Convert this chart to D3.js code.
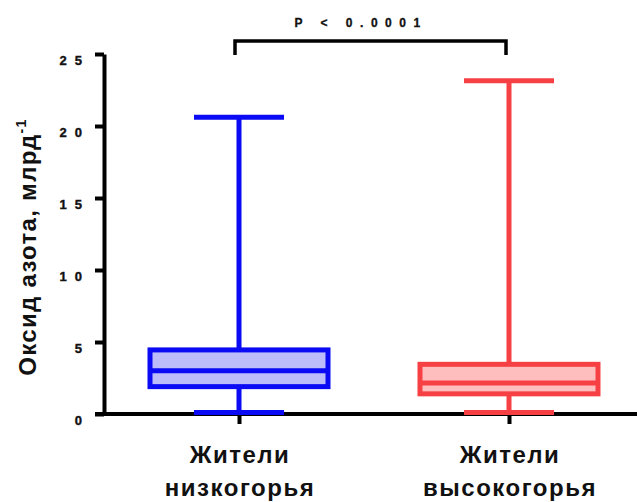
<!DOCTYPE html>
<html lang="ru">
<head>
    <meta charset="UTF-8">
    <title>Оксид азота</title>
    <script src="https://d3js.org/d3.v7.min.js"></script>
    <style>
        body { margin: 0; background: #fff; }
        text { font-family: "Liberation Sans", Arial, sans-serif; font-weight: bold; }
    </style>
</head>
<body>
    <div id="chart"></div>
    <script>
        // data
        const groups = ["Жители низкогорья", "Жители высокогорья"];
        const whiskerLow = [0.1, 0.1];
        const q1 = [1.9, 1.4];
        const median = [3.0, 2.15];
        const q3 = [4.45, 3.45];
        const whiskerHigh = [20.6, 23.15];
        const yTicks = [0, 5, 10, 15, 20, 25];
        const strokeColors = ["#0a0af5", "#f74044"];
        const fillColors = ["#bcbcfa", "#ffbebe"];
        const pText = "P < 0.0001";

        const W = 637, H = 502;
        const svg = d3.select("#chart").append("svg")
            .attr("width", W).attr("height", H);

        const x = d3.scalePoint().domain(groups).range([239, 509]);
        const y = d3.scaleLinear().domain([0, 25]).range([414, 54]);
        const boxHalf = 89, capHalf = 45;

        // y axis
        const yAxis = svg.append("g")
            .attr("transform", "translate(104,0)")
            .attr("stroke-width", 4)
            .call(d3.axisLeft(y).tickValues(yTicks).tickSize(9).tickSizeOuter(0));
        yAxis.select(".domain").style("stroke-width", "4px");
        yAxis.selectAll(".tick line").style("stroke-width", "4px");
        yAxis.selectAll(".tick text")
            .attr("x", -14).attr("y", 10.5).attr("dy", 0)
            .style("font-size", "13px").style("letter-spacing", "8px")
            .style("font-family", "Liberation Sans, Arial, sans-serif")
            .style("font-weight", "bold")
            .attr("fill", "#111").attr("stroke", "#111").attr("stroke-width", 0.4);

        // x axis
        const xAxis = svg.append("g")
            .attr("transform", "translate(0,414)")
            .call(d3.axisBottom(x).tickSize(10).tickSizeOuter(0).tickFormat(""));
        xAxis.select(".domain").attr("d", "M95,0H637").style("stroke-width", "4px");
        xAxis.selectAll(".tick line").style("stroke-width", "4px");

        groups.forEach((g, i) => {
            const cx = x(g);
            const c = strokeColors[i];
            const gg = svg.append("g");
            // whisker
            gg.append("line").attr("x1", cx).attr("x2", cx)
                .attr("y1", y(whiskerLow[i])).attr("y2", y(whiskerHigh[i]))
                .attr("stroke", c).attr("stroke-width", 5);
            [whiskerLow[i], whiskerHigh[i]].forEach(v => {
                gg.append("line").attr("x1", cx - capHalf).attr("x2", cx + capHalf)
                    .attr("y1", y(v)).attr("y2", y(v))
                    .attr("stroke", c).attr("stroke-width", 5);
            });
            // box
            gg.append("rect").attr("x", cx - boxHalf).attr("y", y(q3[i]))
                .attr("width", boxHalf * 2).attr("height", y(q1[i]) - y(q3[i]))
                .attr("fill", fillColors[i]).attr("stroke", c).attr("stroke-width", 5);
            gg.append("line").attr("x1", cx - boxHalf).attr("x2", cx + boxHalf)
                .attr("y1", y(median[i])).attr("y2", y(median[i]))
                .attr("stroke", c).attr("stroke-width", 5);

            // x labels
            const words = g.split(" ");
            const t = svg.append("text").attr("text-anchor", "middle")
                .attr("font-size", 24).attr("fill", "#111")
                .style("letter-spacing", "1.5px");
            t.append("tspan").attr("x", cx + 1).attr("y", 463).text(words[0]);
            t.append("tspan").attr("x", cx + 1).attr("y", 496).text(words[1]);
        });

        // significance bracket
        const bx1 = x(groups[0]) - 4, bx2 = x(groups[1]) - 3;
        svg.append("path")
            .attr("d", `M${bx1},55V41H${bx2}V55`)
            .attr("fill", "none").attr("stroke", "#000").attr("stroke-width", 3.5);
        svg.append("text").attr("x", 361).attr("y", 27)
            .attr("text-anchor", "middle").attr("font-size", 12).attr("fill", "#111")
            .attr("stroke", "#111").attr("stroke-width", 0.3)
            .style("letter-spacing", "7.5px")
            .text(pText);

        // y title
        const yt = svg.append("text")
            .attr("transform", "translate(36,247) rotate(-90)")
            .attr("text-anchor", "middle").attr("font-size", 24).attr("fill", "#111")
            .style("letter-spacing", "1.3px");
        yt.append("tspan").text("Оксид азота, млрд");
        yt.append("tspan").attr("font-size", 14).attr("dy", -10).text("-1");
    </script>
</body>
</html>
